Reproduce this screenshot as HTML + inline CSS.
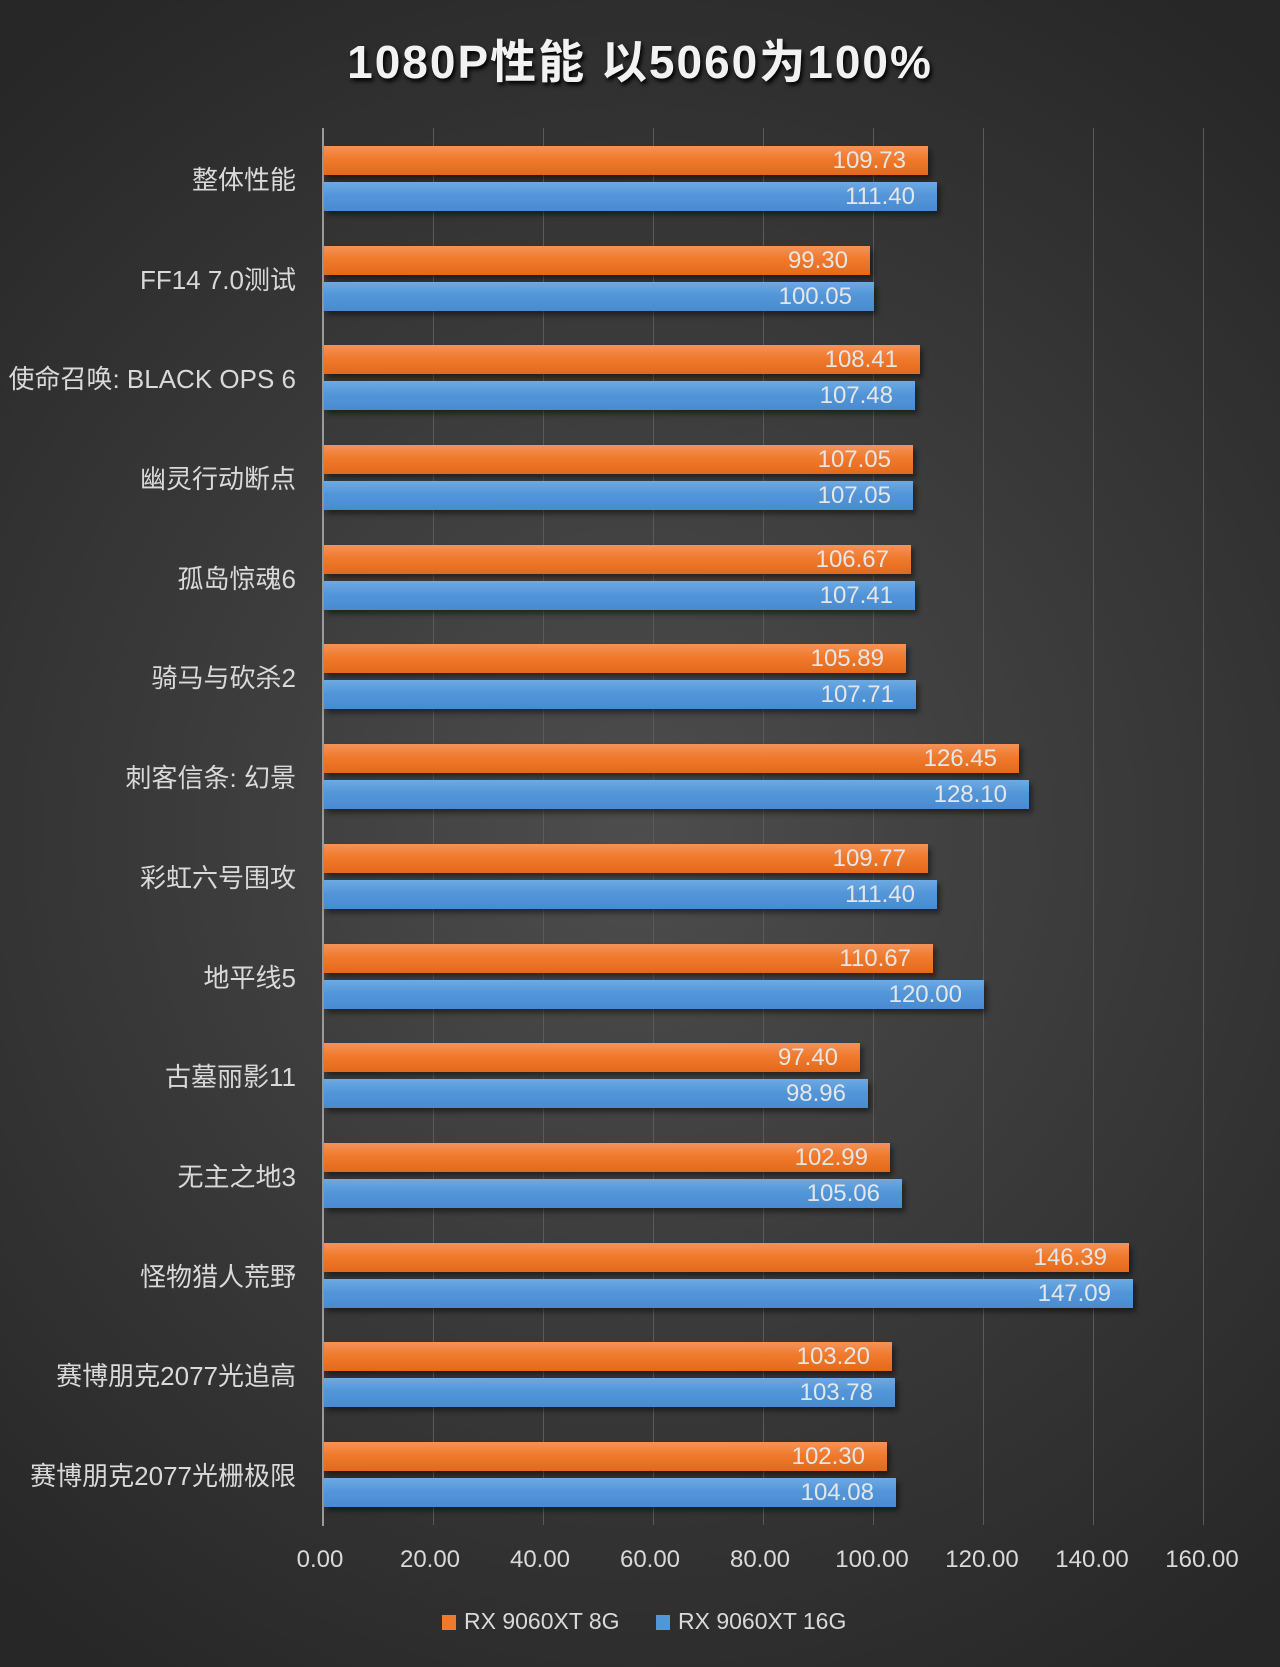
<!DOCTYPE html>
<html><head><meta charset="utf-8"><style>
body{margin:0;width:1280px;height:1667px;overflow:hidden;font-family:"Liberation Sans","Noto Sans CJK SC",sans-serif;}
#bg{position:absolute;left:0;top:0;width:1280px;height:1667px;background:radial-gradient(ellipse 75% 60% at 50% 50%,#4d4d4d 0%,#3a3a3a 50%,#272727 100%);}
.t{position:absolute;left:0;width:1280px;top:26px;text-align:center;color:#f2f2f2;font-size:46px;font-weight:bold;text-shadow:2px 3px 4px #000;letter-spacing:2px}
.g{position:absolute;top:128px;height:1397px;width:1px;background:#5a5a5a}
.ax{position:absolute;left:322px;top:128px;height:1398px;width:2px;background:#9a9a9a}
.r{position:absolute;left:0;width:1280px;height:66px}
.c{position:absolute;right:984px;top:14px;color:#d9d9d9;font-size:26px;white-space:nowrap}
.o,.b{position:absolute;left:324px;height:29px;color:#e6e6e6;font-size:24px;text-align:right;box-sizing:border-box;padding-right:22px;line-height:29px;box-shadow:3px 4px 5px rgba(0,0,0,.45)}
.o{top:0;background:linear-gradient(#f4925a,#f07a2c 45%,#e36a1b)}
.b{top:36px;background:linear-gradient(#6eaae3,#5296d9 45%,#4a8bd0)}
.x{position:absolute;top:1546px;width:120px;margin-left:-60px;text-align:center;color:#d9d9d9;font-size:24px}
.lg{position:absolute;top:1608px;color:#d9d9d9;font-size:23px}
.sq{position:absolute;top:1615px;width:14px;height:15px}
</style></head><body><div id="bg"></div>
<div class="t">1080P性能 以5060为100%</div>
<div class="g" style="left:433px"></div><div class="g" style="left:543px"></div><div class="g" style="left:653px"></div><div class="g" style="left:763px"></div><div class="g" style="left:873px"></div><div class="g" style="left:983px"></div><div class="g" style="left:1093px"></div><div class="g" style="left:1203px"></div>
<div class="ax"></div>

<div class="r" style="top:146px"><div class="c">整体性能</div><div class="o" style="width:604px">109.73</div><div class="b" style="width:613px">111.40</div></div>
<div class="r" style="top:246px"><div class="c">FF14 7.0测试</div><div class="o" style="width:546px">99.30</div><div class="b" style="width:550px">100.05</div></div>
<div class="r" style="top:345px"><div class="c">使命召唤: BLACK OPS 6</div><div class="o" style="width:596px">108.41</div><div class="b" style="width:591px">107.48</div></div>
<div class="r" style="top:445px"><div class="c">幽灵行动断点</div><div class="o" style="width:589px">107.05</div><div class="b" style="width:589px">107.05</div></div>
<div class="r" style="top:545px"><div class="c">孤岛惊魂6</div><div class="o" style="width:587px">106.67</div><div class="b" style="width:591px">107.41</div></div>
<div class="r" style="top:644px"><div class="c">骑马与砍杀2</div><div class="o" style="width:582px">105.89</div><div class="b" style="width:592px">107.71</div></div>
<div class="r" style="top:744px"><div class="c">刺客信条: 幻景</div><div class="o" style="width:695px">126.45</div><div class="b" style="width:705px">128.10</div></div>
<div class="r" style="top:844px"><div class="c">彩虹六号围攻</div><div class="o" style="width:604px">109.77</div><div class="b" style="width:613px">111.40</div></div>
<div class="r" style="top:944px"><div class="c">地平线5</div><div class="o" style="width:609px">110.67</div><div class="b" style="width:660px">120.00</div></div>
<div class="r" style="top:1043px"><div class="c">古墓丽影11</div><div class="o" style="width:536px">97.40</div><div class="b" style="width:544px">98.96</div></div>
<div class="r" style="top:1143px"><div class="c">无主之地3</div><div class="o" style="width:566px">102.99</div><div class="b" style="width:578px">105.06</div></div>
<div class="r" style="top:1243px"><div class="c">怪物猎人荒野</div><div class="o" style="width:805px">146.39</div><div class="b" style="width:809px">147.09</div></div>
<div class="r" style="top:1342px"><div class="c">赛博朋克2077光追高</div><div class="o" style="width:568px">103.20</div><div class="b" style="width:571px">103.78</div></div>
<div class="r" style="top:1442px"><div class="c">赛博朋克2077光栅极限</div><div class="o" style="width:563px">102.30</div><div class="b" style="width:572px">104.08</div></div>

<div class="x" style="left:320px">0.00</div><div class="x" style="left:430px">20.00</div><div class="x" style="left:540px">40.00</div><div class="x" style="left:650px">60.00</div><div class="x" style="left:760px">80.00</div><div class="x" style="left:872px">100.00</div><div class="x" style="left:982px">120.00</div><div class="x" style="left:1092px">140.00</div><div class="x" style="left:1202px">160.00</div>

<div class="sq" style="left:442px;background:#f07a2c"></div><div class="lg" style="left:464px">RX 9060XT 8G</div>
<div class="sq" style="left:656px;background:#5296d9"></div><div class="lg" style="left:678px">RX 9060XT 16G</div>
</body></html>
